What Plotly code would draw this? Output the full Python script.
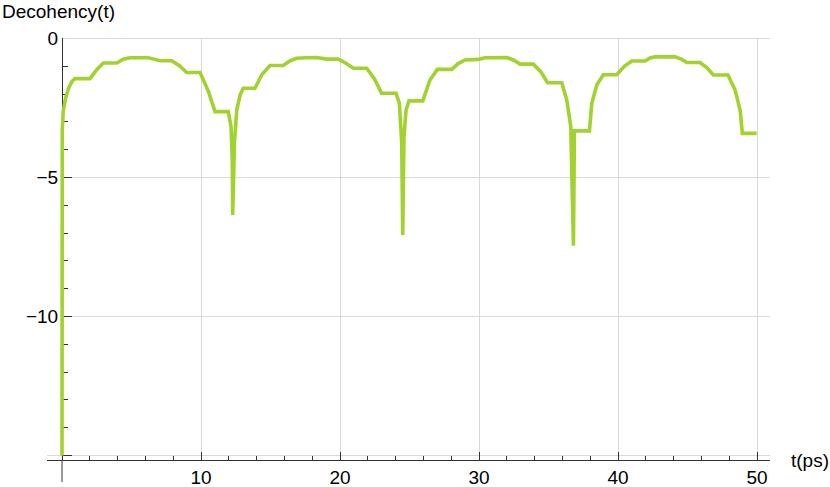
import plotly.graph_objects as go

# Decoherence curve (t in ps)
t_ps = [0, 0.003, 0.02, 0.09, 0.27, 0.5, 0.75, 0.94, 2.01, 2.5, 2.97, 3.94, 4.4, 4.89,
        6.21, 6.6, 7.05, 7.89, 8.45, 8.97, 9.93, 10.53, 11.01, 11.96, 12.16, 12.25,
        12.28, 12.40, 12.57, 12.81, 13.04, 13.88, 14.37, 14.96, 15.92, 16.4, 16.88,
        17.6, 18.32, 19.04, 19.88, 20.4, 20.96, 21.92, 22.5, 22.99, 24.03, 24.27,
        24.44, 24.51, 24.60, 24.75, 24.96, 25.95, 26.47, 27.0, 28.04, 28.5, 28.99,
        29.95, 30.43, 31.99, 32.5, 32.95, 33.91, 34.45, 34.93, 35.95, 36.31, 36.6,
        36.79, 36.86, 37.94, 38.11, 38.47, 38.94, 39.91, 40.45, 40.99, 41.94, 42.3,
        42.66, 44.1, 44.55, 44.94, 45.9, 46.4, 46.86, 47.91, 48.42, 48.78, 48.94,
        49.97]
decohency = [-15.0, -7.0, -3.3, -2.6, -2.12, -1.75, -1.52, -1.44, -1.44, -1.12, -0.88,
             -0.88, -0.74, -0.69, -0.69, -0.74, -0.80, -0.80, -0.98, -1.22, -1.22, -1.90,
             -2.63, -2.63, -3.17, -4.37, -6.35, -3.77, -2.57, -2.03, -1.79, -1.79, -1.30,
             -0.97, -0.97, -0.80, -0.71, -0.69, -0.68, -0.74, -0.74, -0.88, -1.07, -1.07,
             -1.47, -1.97, -1.97, -2.33, -3.77, -7.07, -3.53, -2.57, -2.24, -2.24, -1.49,
             -1.11, -1.11, -0.90, -0.77, -0.75, -0.69, -0.68, -0.78, -0.92, -0.92, -1.20,
             -1.59, -1.59, -2.21, -3.17, -7.45, -3.32, -3.32, -2.33, -1.67, -1.30, -1.30,
             -1.00, -0.81, -0.81, -0.70, -0.66, -0.66, -0.74, -0.86, -0.86, -1.05, -1.31,
             -1.31, -1.85, -2.57, -3.41, -3.41]

x_ticks = [0, 10, 20, 30, 40, 50]
x_labels = ['', '10', '20', '30', '40', '50']
y_ticks = [0, -5, -10, -15]
y_labels = ['0', '\u22125', '\u221210', '']

AXIS = '#333333'
GRID = '#d9d9d9'
FONT = dict(family='Liberation Sans, Arial, sans-serif', size=19, color='black')

x_range = [-1.079, 50.93]
y_range = [-15.16, 0.02]

fig = go.Figure()

fig.add_trace(go.Scatter(
    x=t_ps,
    y=decohency,
    mode='lines',
    line=dict(color='#a2d22e', width=3.6),
    hoverinfo='x+y',
    showlegend=False,
))

# lignes de grille horizontales (partent de l'axe vertical)
for v in y_ticks:
    fig.add_shape(type='line', xref='x', yref='y',
                  x0=0 if v != -15 else x_range[0], x1=x_range[1], y0=v, y1=v,
                  line=dict(color=GRID, width=1), layer='below')

# prolongement de l'axe vertical sous l'axe horizontal
fig.add_shape(type='line', xref='x', yref='paper', x0=0, x1=0, y0=0, y1=-22 / 422,
              line=dict(color=AXIS, width=1))

fig.update_layout(
    width=830,
    height=487,
    margin=dict(l=47, r=60, t=38, b=27, autoexpand=False),
    plot_bgcolor='white',
    paper_bgcolor='white',
    font=FONT,
    showlegend=False,
    xaxis=dict(
        range=x_range,
        automargin=False,
        tickmode='array',
        tickvals=x_ticks,
        ticktext=x_labels,
        showgrid=True,
        gridcolor=GRID,
        gridwidth=1,
        zeroline=False,
        showline=True,
        linecolor=AXIS,
        linewidth=1,
        ticks='inside',
        ticklen=8,
        tickcolor=AXIS,
        ticklabelstandoff=0,
        minor=dict(tickmode='array', tickvals=[2, 4, 6, 8, 12, 14, 16, 18, 22, 24, 26, 28,
                                               32, 34, 36, 38, 42, 44, 46, 48],
                   ticks='inside', ticklen=4, tickcolor=AXIS, showgrid=False),
        tickfont=FONT,
        layer='below traces',
    ),
    yaxis=dict(
        range=y_range,
        automargin=False,
        anchor='free',
        position=15 / 723,
        tickmode='array',
        tickvals=y_ticks,
        ticktext=y_labels,
        showgrid=False,
        zeroline=False,
        showline=True,
        linecolor=AXIS,
        linewidth=1,
        ticks='inside',
        ticklen=9,
        tickcolor=AXIS,
        minor=dict(tickmode='array',
                   tickvals=[-1, -2, -3, -4, -6, -7, -8, -9, -11, -12, -13, -14],
                   ticks='inside', ticklen=5, tickcolor=AXIS, showgrid=False),
        tickfont=FONT,
        layer='below traces',
    ),
)

fig.add_annotation(text='Decohency(t)', xref='paper', yref='paper',
                   x=-47 / 723, y=1 + 26 / 422, xanchor='left', yanchor='middle',
                   showarrow=False, font=FONT)
fig.add_annotation(text='t(ps)', xref='paper', yref='paper',
                   x=1 + 19 / 723, y=0, xanchor='left', yanchor='middle',
                   showarrow=False, font=FONT)

# la page a une marge de 8px par défaut : on la supprime
fig.write_html("out.html", config={'displayModeBar': False},
               post_script="document.body.style.margin='0';")
